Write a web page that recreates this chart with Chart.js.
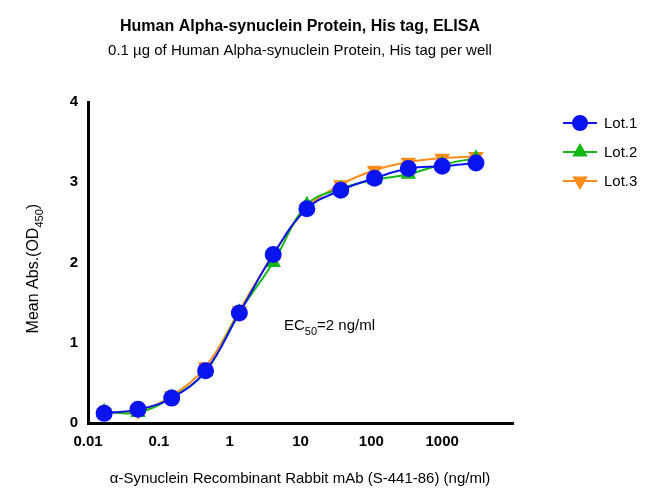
<!DOCTYPE html><html><head><script src="https://cdn.jsdelivr.net/npm/chart.js@4"></script>
<style>body{margin:0;background:#fff}#w{width:665px;height:502px}</style></head><body><div id="w"><canvas id="c"></canvas></div>
<script>
const conc=[0.0169,0.0508,0.152,0.457,1.37,4.12,12.3,37,111,333,1000,3000];
const lot1=[0.12,0.17,0.31,0.65,1.37,2.1,2.67,2.9,3.05,3.17,3.2,3.24];
const lot2=[0.14,0.13,0.32,0.64,1.38,2.0,2.72,2.92,3.03,3.1,3.22,3.3];
const lot3=[0.13,0.15,0.34,0.7,1.4,2.1,2.68,2.97,3.15,3.25,3.3,3.32];
const xTicks=[0.01,0.1,1,10,100,1000];
const yTicks=[0,1,2,3,4];
const F='"Liberation Sans", Arial, sans-serif';
const mk=(l,d,c,ps,rot,r)=>({label:l,data:conc.map((x,i)=>({x,y:d[i]})),borderColor:c,backgroundColor:c,pointStyle:ps,pointRotation:rot,pointRadius:r,showLine:true,tension:0.4,borderWidth:2});
const sets=[mk('Lot.1',lot1,'#0A14F0','circle',0,7.5),mk('Lot.2',lot2,'#14B814','triangle',0,7),mk('Lot.3',lot3,'#FF8C1A','triangle',180,7)];
const txt={id:'txt',afterDraw(ch){const g=ch.ctx;g.save();g.fillStyle='#000';g.textAlign='center';
g.font='bold 16px '+F;g.fillText('Human Alpha-synuclein Protein, His tag, ELISA',300,31);
g.font='15px '+F;g.fillText('0.1 µg of Human Alpha-synuclein Protein, His tag per well',300,55);
g.fillText('α-Synuclein Recombinant Rabbit mAb (S-441-86) (ng/ml)',300,483);
g.save();g.translate(38,263);g.rotate(-Math.PI/2);g.textAlign='left';g.font='16px '+F;
let s='Mean Abs.(OD',w=g.measureText(s).width,x0=-(w+35)/2;g.fillText(s,x0,0);g.font='11px '+F;g.fillText('450',x0+w,5);let w2=g.measureText('450').width;g.font='16px '+F;g.fillText(')',x0+w+w2,0);g.restore();
g.textAlign='left';g.font='15px '+F;g.fillText('EC',284,330);let e=g.measureText('EC').width;g.font='11px '+F;g.fillText('50',284+e,335);let e2=g.measureText('50').width;g.font='15px '+F;g.fillText('=2 ng/ml',284+e+e2,330);
const leg=[['Lot.1','#0A14F0','circle',0],['Lot.2','#14B814','triangle',0],['Lot.3','#FF8C1A','triangle',180]];
leg.forEach((L,i)=>{const y=123+i*29;g.strokeStyle=L[1];g.lineWidth=2;g.beginPath();g.moveTo(563,y);g.lineTo(597,y);g.stroke();g.fillStyle=L[1];Chart.helpers.drawPoint(g,{pointStyle:L[2],radius:7,rotation:L[3],borderWidth:1},580,y);g.fill();g.fillStyle='#000';g.font='15px '+F;g.fillText(L[0],604,y+5);});
g.restore();}};
new Chart(document.getElementById('c'),{type:'scatter',data:{datasets:sets},plugins:[txt],
options:{responsive:true,maintainAspectRatio:false,animation:false,layout:{padding:{left:58,right:152,top:102,bottom:39}},
plugins:{legend:{display:false},tooltip:{enabled:false}},
scales:{x:{type:'logarithmic',min:0.01,max:10000,afterFit(s){s.height=40},afterBuildTicks(s){s.ticks=xTicks.map(v=>({value:v}))},
ticks:{autoSkip:false,maxRotation:0,color:'#000',font:{family:F,size:15,weight:'bold'},callback:v=>String(v)},
grid:{display:false,drawTicks:true,tickLength:7,tickWidth:3,tickColor:'#000'},border:{color:'#000',width:3}},
y:{min:0,max:4,afterFit(s){s.width=30},afterBuildTicks(s){s.ticks=yTicks.map(v=>({value:v}))},ticks:{color:'#000',font:{family:F,size:15,weight:'bold'}},
grid:{display:false,drawTicks:true,tickLength:7,tickWidth:3,tickColor:'#000'},border:{color:'#000',width:3}}}}});
</script></body></html>
